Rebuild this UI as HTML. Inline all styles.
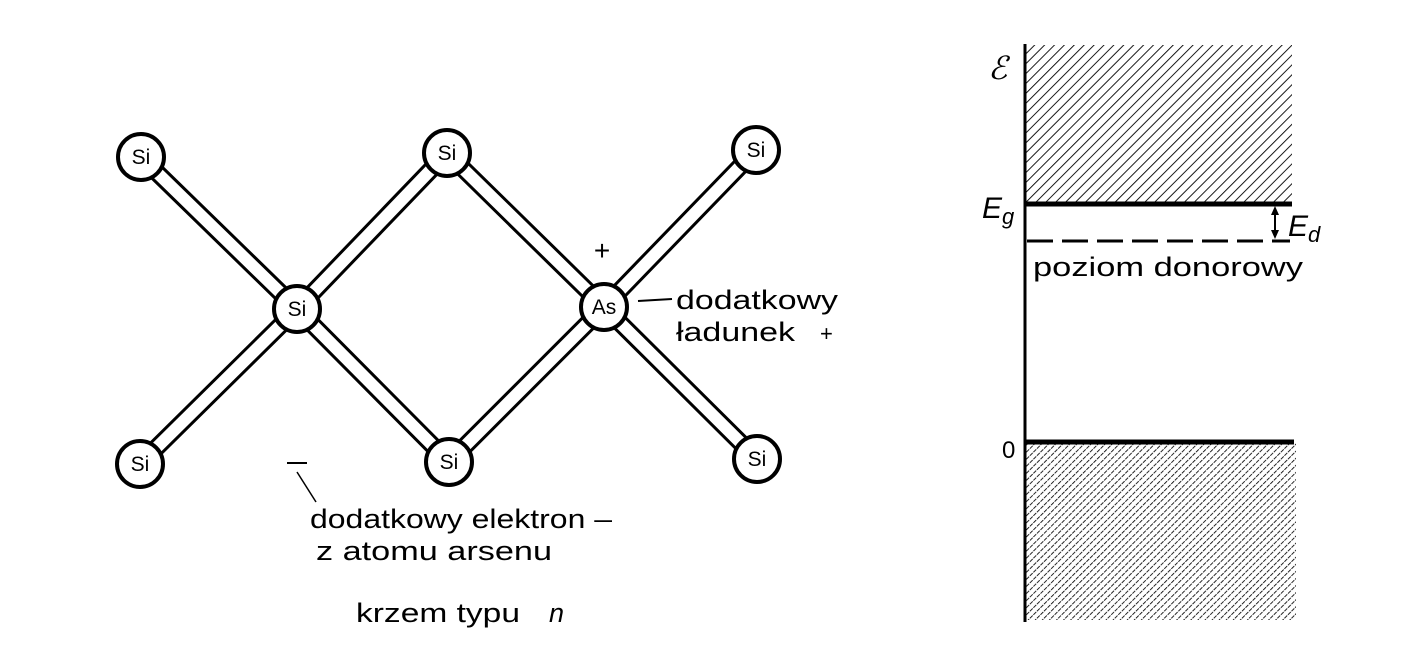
<!DOCTYPE html>
<html><head><meta charset="utf-8"><style>
html,body{margin:0;padding:0;background:#fff;width:1416px;height:650px;overflow:hidden}
svg text{font-family:"Liberation Sans",sans-serif;fill:#000}
</style></head><body>
<svg width="1416" height="650" viewBox="0 0 1416 650" xmlns="http://www.w3.org/2000/svg">
<defs>
<pattern id="h1" width="7" height="7" patternUnits="userSpaceOnUse" patternTransform="rotate(45)">
<rect width="7" height="7" fill="#fff"/><line x1="0" y1="0" x2="0" y2="7" stroke="#000" stroke-width="1.8"/></pattern>
<pattern id="h2" width="5" height="5" patternUnits="userSpaceOnUse" patternTransform="rotate(45)">
<rect width="5" height="5" fill="#fff"/><line x1="0" y1="0" x2="0" y2="5" stroke="#000" stroke-width="1.7" stroke-dasharray="4 2"/></pattern>
</defs>
<g stroke-linecap="butt">
<g stroke="#000" stroke-width="18">
<line x1="141" y1="157" x2="297" y2="309"/><line x1="297" y1="309" x2="447" y2="153"/>
<line x1="447" y1="153" x2="604" y2="307"/><line x1="604" y1="307" x2="756" y2="150"/>
<line x1="140" y1="464" x2="297" y2="309"/><line x1="297" y1="309" x2="449" y2="462"/>
<line x1="449" y1="462" x2="604" y2="307"/><line x1="604" y1="307" x2="757" y2="459"/>
</g>
<g stroke="#fff" stroke-width="12">
<line x1="141" y1="157" x2="297" y2="309"/><line x1="297" y1="309" x2="447" y2="153"/>
<line x1="447" y1="153" x2="604" y2="307"/><line x1="604" y1="307" x2="756" y2="150"/>
<line x1="140" y1="464" x2="297" y2="309"/><line x1="297" y1="309" x2="449" y2="462"/>
<line x1="449" y1="462" x2="604" y2="307"/><line x1="604" y1="307" x2="757" y2="459"/>
</g>
</g>
<g fill="#fff" stroke="#000" stroke-width="4">
<circle cx="141" cy="157" r="23"/><circle cx="297" cy="309" r="23"/><circle cx="447" cy="153" r="23"/>
<circle cx="604" cy="307" r="23"/><circle cx="756" cy="150" r="23"/><circle cx="140" cy="464" r="23"/>
<circle cx="449" cy="462" r="23"/><circle cx="757" cy="459" r="23"/>
</g>
<g font-size="21" text-anchor="middle">
<text x="141" y="164">Si</text><text x="297" y="316">Si</text><text x="447" y="160">Si</text>
<text x="604" y="314">As</text><text x="756" y="157">Si</text><text x="140" y="471">Si</text>
<text x="449" y="469">Si</text><text x="757" y="466">Si</text>
</g>
<text x="602" y="260" font-size="28" text-anchor="middle">+</text>
<line x1="638" y1="301" x2="672" y2="299" stroke="#000" stroke-width="2"/>
<text x="676" y="309" font-size="27" textLength="162" lengthAdjust="spacingAndGlyphs">dodatkowy</text>
<text x="676" y="341" font-size="27" textLength="119" lengthAdjust="spacingAndGlyphs">ładunek</text>
<text x="820" y="341" font-size="22">+</text>
<line x1="287" y1="463" x2="307" y2="463" stroke="#000" stroke-width="2"/>
<line x1="297" y1="472" x2="316" y2="502" stroke="#000" stroke-width="1.5"/>
<text x="310" y="528" font-size="27" textLength="302" lengthAdjust="spacingAndGlyphs">dodatkowy elektron –</text>
<text x="316" y="560" font-size="27" textLength="236" lengthAdjust="spacingAndGlyphs">z atomu arsenu</text>
<text x="356" y="622" font-size="27" textLength="164" lengthAdjust="spacingAndGlyphs">krzem typu</text>
<text x="549" y="622" font-size="27" font-style="italic">n</text>
<rect x="1026" y="45" width="266" height="159" fill="url(#h1)"/>
<rect x="1026" y="443" width="270" height="177" fill="url(#h2)"/>
<line x1="1025" y1="44" x2="1025" y2="622" stroke="#000" stroke-width="3"/>
<line x1="1025" y1="204" x2="1292" y2="204" stroke="#000" stroke-width="5"/>
<line x1="1025" y1="442" x2="1294" y2="442" stroke="#000" stroke-width="5"/>
<line x1="1027" y1="241" x2="1290" y2="241" stroke="#000" stroke-width="3" stroke-dasharray="26 9"/>
<line x1="1275" y1="210" x2="1275" y2="236" stroke="#000" stroke-width="2"/>
<path d="M1275 206 L1271 215 L1279 215Z M1275 239 L1271 230 L1279 230Z" fill="#000"/>
<text x="988" y="79" font-size="32" font-family="Liberation Serif" font-style="italic">ℰ</text>
<text x="982" y="218" font-size="30" font-family="Liberation Serif" font-style="italic">E<tspan font-size="22" dy="6">g</tspan></text>
<text x="1288" y="236" font-size="30" font-family="Liberation Serif" font-style="italic">E<tspan font-size="22" dy="6">d</tspan></text>
<text x="1033" y="276" font-size="27" textLength="270" lengthAdjust="spacingAndGlyphs">poziom donorowy</text>
<text x="1002" y="458" font-size="24">0</text>
</svg>
</body></html>
